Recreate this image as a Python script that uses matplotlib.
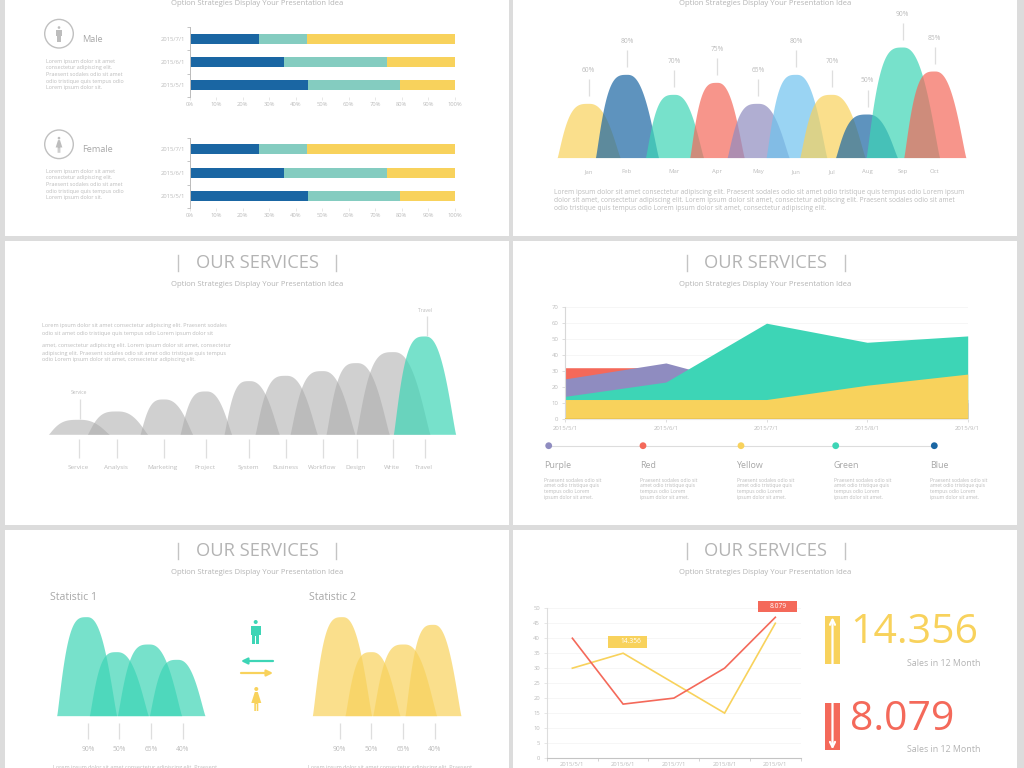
import matplotlib

matplotlib.use("Agg")
import matplotlib.pyplot as plt
import numpy as np
from matplotlib.patches import Circle, Polygon, Rectangle

plt.rcParams["font.family"] = ["Open Sans", "DejaVu Sans"]

W, H = 1024, 768

# colours
BLUE = "#1a66a3"
MINT = "#84ccc0"
YELLOW = "#f8d25c"
TEAL = "#3dd5b6"
RED = "#f4695a"
PURPLE = "#8f8cc0"
SKY = "#6fc2ee"
GREY_TEXT = "#b4b4b4"
PALE_TEXT = "#bcbcbc"
STEM = "#dedede"

# stacked bars (percent)
bar_dates = ["2015/5/1", "2015/6/1", "2015/7/1"]
bar_blue = [44.5, 35.6, 26.2]
bar_mint = [34.7, 39.0, 18.2]
bar_yellow = [20.8, 25.4, 55.6]

# monthly bumps
months = ["Jan", "Feb", "Mar", "Apr", "May", "Jun", "Jul", "Aug", "Sep", "Oct"]
month_pct = ["60%", "80%", "70%", "75%", "65%", "80%", "70%", "50%", "90%", "85%"]
month_heights = [164, 251, 191, 227, 164, 251, 191, 132, 333, 261]
month_left = [135, 250, 400, 533, 645, 762, 863, 970, 1062, 1175]
month_peak = [230, 345, 487, 615, 738, 853, 960, 1067, 1172, 1268]
month_right = [325, 440, 575, 697, 832, 945, 1060, 1157, 1283, 1362]
month_colors = [YELLOW, BLUE, TEAL, RED, PURPLE, SKY, YELLOW, BLUE, TEAL, RED]

# services bumps
services = ["Service", "Analysis", "Marketing", "Project", "System",
            "Business", "Workflow", "Design", "Write", "Travel"]
service_heights = [45, 70, 106, 130, 161, 177, 191, 215, 248, 295]
service_left = [145, 262, 420, 540, 672, 765, 870, 978, 1068, 1180]
service_peak = [238, 352, 492, 618, 748, 858, 968, 1070, 1180, 1275]
service_right = [328, 443, 578, 695, 838, 952, 1065, 1168, 1290, 1367]

# stacked-looking area chart, drawn back to front
area_dates = ["2015/5/1", "2015/6/1", "2015/7/1", "2015/8/1", "2015/9/1"]
area_red = [32, 32, 20, 10, 10]
area_purple = [25, 35, 18, 15, 12]
area_green = [14, 23, 60, 48, 52]
area_yellow = [12, 12, 12, 21, 28]
legend_names = ["Purple", "Red", "Yellow", "Green", "Blue"]
legend_colors = [PURPLE, RED, YELLOW, TEAL, BLUE]

# statistic bumps
stat_pct = ["90%", "50%", "65%", "40%"]
stat1_heights = [297, 192, 215, 169]
stat1_left = [170, 268, 352, 448]
stat1_peak = [260, 350, 447, 532]
stat1_right = [350, 445, 545, 615]
stat2_heights = [297, 192, 215, 274]
stat2_left = [937, 1035, 1118, 1215]
stat2_peak = [1027, 1115, 1212, 1300]
stat2_right = [1115, 1200, 1310, 1383]

# line chart
line_dates = ["2015/5/1", "2015/6/1", "2015/7/1", "2015/8/1", "2015/9/1"]
line_yellow = [30, 35, 25, 15, 45]
line_red = [40, 18, 20, 30, 47]

LOREM = "Lorem ipsum dolor sit amet"
SUBTITLE = "Option Strategies Display Your Presentation Idea"


def px_axes(x0, y0, x1, y1, zorder=1):
    ax = fig.add_axes([x0 / W, 1 - y1 / H, (x1 - x0) / W, (y1 - y0) / H], zorder=zorder)
    ax.patch.set_alpha(0)
    return ax


def bump(ax, left, peak, right, height, color, alpha=0.7):
    # round hill, fuller on the left flank than on the right
    xs = np.linspace(left, right, 300)
    u = np.where(xs < peak, (peak - xs) / (peak - left), (xs - peak) / (right - peak))
    power = np.where(xs < peak, 3.4, 2.4)
    ys = np.clip(1 - u**power, 0, 1) ** 1.2
    ax.fill_between(xs, 0, height * ys, color=color, alpha=alpha, lw=0)


def bump_axes(ox, base, top_h):
    # x runs in 3x crop units so the lists above stay readable
    ax = px_axes(ox, base - top_h / 3, ox + 512, base)
    ax.set_xlim(0, 1536)
    ax.set_ylim(0, top_h)
    ax.axis("off")
    return ax


def stem(x, y0, y1):
    top.plot([x, x], [y0, y1], color=STEM, lw=0.9, solid_capstyle="butt")


def label(x, y, s, size=4.0, color=PALE_TEXT, ha="left", **kw):
    top.text(x, y, s, fontsize=size, color=color, ha=ha, va="center", **kw)


def heading(cx, y):
    label(cx, y, "OUR SERVICES", size=13.2, color=GREY_TEXT, ha="center")
    label(cx, y + 21, SUBTITLE, size=5.5, color=GREY_TEXT, ha="center")
    for dx in (-79, 79):
        top.plot([cx + dx, cx + dx], [y - 8, y + 8], color="#c4c4c4", lw=1)


def person(cx, y, h, color, female=False):
    s = h / 24
    top.add_patch(Circle((cx, y + 2 * s), 2 * s, color=color, lw=0))
    if female:
        pts = [(-1.5, 5), (1.5, 5), (5, 16), (2, 16), (2, 24), (0.4, 24), (0.4, 17),
               (-0.4, 17), (-0.4, 24), (-2, 24), (-2, 16), (-5, 16)]
    else:
        pts = [(-5, 5.5), (5, 5.5), (5, 15), (3.3, 15), (3.3, 24), (0.4, 24), (0.4, 16),
               (-0.4, 16), (-0.4, 24), (-3.3, 24), (-3.3, 15), (-5, 15)]
    top.add_patch(Polygon([(cx + a * s, y + b * s) for a, b in pts], color=color, lw=0))


fig = plt.figure(figsize=(W / 100, H / 100), dpi=100, facecolor="#dcdcdc")

# white slides
back = px_axes(0, 0, W, H, zorder=0)
back.set_xlim(0, W)
back.set_ylim(H, 0)
back.axis("off")
for x0, x1 in ((5, 509), (513, 1017)):
    for y0, y1 in ((-2, 236), (241, 525), (530, 770)):
        back.add_patch(Rectangle((x0, y0), x1 - x0, y1 - y0, color="white", lw=0))

# overlay in picture pixels for text and furniture
top = px_axes(0, 0, W, H, zorder=3)
top.set_xlim(0, W)
top.set_ylim(H, 0)
top.axis("off")


# ---- slide 1: stacked bars
def stacked(y0, y1):
    ax = px_axes(189.7, y0, 454.7, y1)
    ys = np.arange(3)
    ax.barh(ys, bar_blue, height=0.42, color=BLUE, lw=0)
    ax.barh(ys, bar_mint, left=bar_blue, height=0.42, color=MINT, lw=0)
    left = np.add(bar_blue, bar_mint)
    ax.barh(ys, bar_yellow, left=left, height=0.42, color=YELLOW, lw=0)
    ax.set_xlim(0, 100)
    ax.set_ylim(-0.5, 2.5)
    ax.set_yticks([-0.5, 0.5, 1.5, 2.5], minor=True)
    ax.set_yticks(ys, bar_dates)
    ax.set_xticks(np.arange(0, 101, 10), [f"{v}%" for v in range(0, 101, 10)])
    ax.tick_params(labelsize=4.2, labelcolor=PALE_TEXT, length=0, pad=3)
    ax.tick_params(axis="x", pad=1.5)
    ax.tick_params(axis="y", which="minor", length=2, color="#bbbbbb", width=0.6)
    ax.tick_params(axis="x", length=2, color="#dddddd", width=0.5)
    for side in ("top", "right", "bottom"):
        ax.spines[side].set_visible(False)
    ax.spines["left"].set_color("#bbbbbb")
    ax.spines["left"].set_linewidth(0.7)


stacked(27, 97)
stacked(137.5, 208)

lorem_short = [LOREM, "consectetur adipiscing elit.", "Praesent sodales odio sit amet",
               "odio tristique quis tempus odio", "Lorem ipsum dolor sit."]
for name, cy, female, ly in (("Male", 33.7, False, (61, 68, 75, 81, 88)),
                             ("Female", 144.3, True, (171, 178, 185, 191, 198))):
    top.add_patch(Circle((59, cy), 14.3, fill=False, ec="#c0c0c0", lw=1))
    person(59, cy - 7.5, 16, "#bdbdbd", female)
    label(82, cy + 5.3, name, size=6.6, color="#a8a8a8")
    for y, s in zip(ly, lorem_short):
        label(46, y, s, size=3.9)
label(257, 3.5, SUBTITLE, size=5.5, color=GREY_TEXT, ha="center")

# ---- slide 2: month hills
ax = bump_axes(512, 158, 340)
for i in range(len(months)):
    bump(ax, month_left[i], month_peak[i], month_right[i], month_heights[i], month_colors[i])
    x = 512 + month_peak[i] / 3
    y_top = 158 - month_heights[i] / 3
    stem(x, y_top - 24, y_top - 7)
    label(x, y_top - 33, month_pct[i], size=4.8, ha="center")
    label(x, 171.5, months[i], size=4.3, ha="center")
top.plot([557, 966], [158.3, 158.3], color="white", lw=0.6)
label(765.5, 3.5, SUBTITLE, size=5.5, color=GREY_TEXT, ha="center")
para = ["Lorem ipsum dolor sit amet consectetur adipiscing elit. Praesent sodales odio sit amet odio tristique quis tempus odio Lorem ipsum",
        "dolor sit amet, consectetur adipiscing elit. Lorem ipsum dolor sit amet, consectetur adipiscing elit. Praesent sodales odio sit amet",
        "odio tristique quis tempus odio Lorem ipsum dolor sit amet, consectetur adipiscing elit."]
for y, s in zip((192, 200.5, 209), para):
    label(554, y, s, size=4.75)

# ---- slide 3: services hills
heading(257, 263)
ax = bump_axes(0, 434.3, 300)
for i in range(len(services)):
    last = i == len(services) - 1
    bump(ax, service_left[i], service_peak[i], service_right[i], service_heights[i],
         TEAL if last else "#aaaaaa", 0.7 if last else 0.55)
    x = service_peak[i] / 3
    stem(x, 439, 458)
    label(x - 1, 467.5, services[i], size=4.6, ha="center")
stem(80, 399, 419)
label(79, 392.5, "Service", size=3.6, ha="center")
stem(427, 316, 336)
label(425, 310, "Travel", size=3.6, ha="center")
para = ["Lorem ipsum dolor sit amet consectetur adipiscing elit. Praesent sodales",
        "odio sit amet odio tristique quis tempus odio Lorem ipsum dolor sit",
        "amet, consectetur adipiscing elit. Lorem ipsum dolor sit amet, consectetur",
        "adipiscing elit. Praesent sodales odio sit amet odio tristique quis tempus",
        "odio Lorem ipsum dolor sit amet, consectetur adipiscing elit."]
for y, s in zip((326, 333, 346, 353, 359.5), para):
    label(42, y, s, size=3.95)

# ---- slide 4: area chart
heading(765.5, 263)
ax = px_axes(565.3, 307.3, 967.7, 418.6)
xs = np.arange(5)
for vals, col in ((area_red, RED), (area_purple, PURPLE), (area_green, TEAL), (area_yellow, YELLOW)):
    ax.fill_between(xs, 0, vals, color=col, lw=0, zorder=2)
ax.plot(xs, [0] * 5, color="#ecc653", lw=1.4, zorder=3)
ax.set_xlim(0, 4)
ax.set_ylim(0, 70)
ax.set_yticks(range(0, 71, 10))
ax.set_xticks(xs, area_dates)
ax.grid(axis="y", color="#f5f5f5", lw=0.6)
ax.tick_params(labelsize=4.3, labelcolor=PALE_TEXT, length=2, color="#d8d8d8", width=0.6, pad=3)
for side in ("top", "right"):
    ax.spines[side].set_visible(False)
ax.spines["left"].set_color("#d8d8d8")
ax.spines["bottom"].set_color("#e8e8e8")

dot_x = [548.7, 643, 741, 835.7, 934.3]
text_x = [544, 640.3, 737, 833.7, 930.3]
top.plot([dot_x[0], dot_x[-1]], [445.7, 445.7], color="#dddddd", lw=0.8, zorder=1)
blurb = ["Praesent sodales odio sit", "amet odio tristique quis", "tempus odio Lorem", "ipsum dolor sit amet."]
for i in range(5):
    top.add_patch(Circle((dot_x[i], 445.7), 3.4, color=legend_colors[i], lw=0, zorder=2))
    label(text_x[i], 465, legend_names[i], size=6.4, color="#a8a8a8")
    for y, s in zip((480, 486, 491.7, 497.5), blurb):
        label(text_x[i], y, s, size=3.6)

# ---- slide 5: statistic hills
heading(257, 551)
base = 530 + 557 / 3
ax = bump_axes(0, base, 300)
for i in range(4):
    bump(ax, stat1_left[i], stat1_peak[i], stat1_right[i], stat1_heights[i], TEAL)
    bump(ax, stat2_left[i], stat2_peak[i], stat2_right[i], stat2_heights[i], YELLOW)
for tick_x in ([88, 119.3, 151, 182.7], [339.7, 371.3, 403, 434.7]):
    for x, pct in zip(tick_x, stat_pct):
        stem(x, 722.7, 738.5)
        label(x, 749.3, pct, size=4.8, ha="center")
label(50, 597, "Statistic 1", size=7.6, color="#a8a8a8")
label(309.3, 597, "Statistic 2", size=7.6, color="#a8a8a8")
label(135, 767, "Lorem ipsum dolor sit amet consectetur adipiscing elit. Praesent", size=4, ha="center")
label(390, 767, "Lorem ipsum dolor sit amet consectetur adipiscing elit. Praesent", size=4, ha="center")
person(255.7, 620, 24, TEAL)
person(256.3, 687, 24, YELLOW, female=True)
top.annotate("", xy=(241, 661), xytext=(273, 661),
             arrowprops=dict(arrowstyle="-|>", color=TEAL, lw=1.6, mutation_scale=9, shrinkA=0, shrinkB=0))
top.annotate("", xy=(273, 673), xytext=(241, 673),
             arrowprops=dict(arrowstyle="-|>", color=YELLOW, lw=1.6, mutation_scale=9, shrinkA=0, shrinkB=0))

# ---- slide 6: line chart
heading(765.5, 551)
ax = px_axes(547, 608.3, 800.7, 758)
xs = np.arange(5)
ax.plot(xs, line_yellow, color=YELLOW, lw=1.2, solid_joinstyle="miter")
ax.plot(xs, line_red, color=RED, lw=1.2, solid_joinstyle="miter")
ax.set_xlim(-0.5, 4.5)
ax.set_ylim(0, 50)
ax.set_yticks(range(0, 51, 5))
ax.set_xticks(xs, line_dates)
ax.set_xticks(np.arange(-0.5, 5), minor=True)
ax.grid(axis="y", color="#f5f5f5", lw=0.6)
ax.tick_params(labelsize=4.2, labelcolor=PALE_TEXT, length=0, pad=3)
ax.tick_params(axis="x", which="minor", length=2, color="#cccccc", width=0.6)
ax.tick_params(axis="y", length=2, color="#dddddd", width=0.5)
for side in ("top", "right"):
    ax.spines[side].set_visible(False)
ax.spines["left"].set_color("#dddddd")
ax.spines["bottom"].set_color("#c4c4c4")

top.add_patch(Rectangle((608, 636), 39, 11.7, color=YELLOW, lw=0))
label(630.5, 641.5, "14.356", size=4.8, color="white", ha="center")
top.add_patch(Rectangle((757.7, 601), 39, 11, color=RED, lw=0))
label(778, 606.5, "8.079", size=4.8, color="white", ha="center")

for y0, col, num, num_y, sub_y, up in ((616.3, YELLOW, "14.356", 633, 663, True),
                                      (703, RED, "8.079", 719.5, 750, False)):
    top.add_patch(Rectangle((824.7, y0), 15.6, 47.4, color=col, lw=0))
    tail, tip = (y0 + 47.4, y0 + 1) if up else (y0, y0 + 46.4)
    top.annotate("", xy=(832.5, tip), xytext=(832.5, tail),
                 arrowprops=dict(arrowstyle="->", color="white", lw=1.6, mutation_scale=9, shrinkA=0, shrinkB=0))
    label(850, num_y, num, size=29.5, color=col)
    label(980.5, sub_y, "Sales in 12 Month", size=6.4, color=GREY_TEXT, ha="right")

fig.savefig("out.png", dpi=100, facecolor=fig.get_facecolor())
